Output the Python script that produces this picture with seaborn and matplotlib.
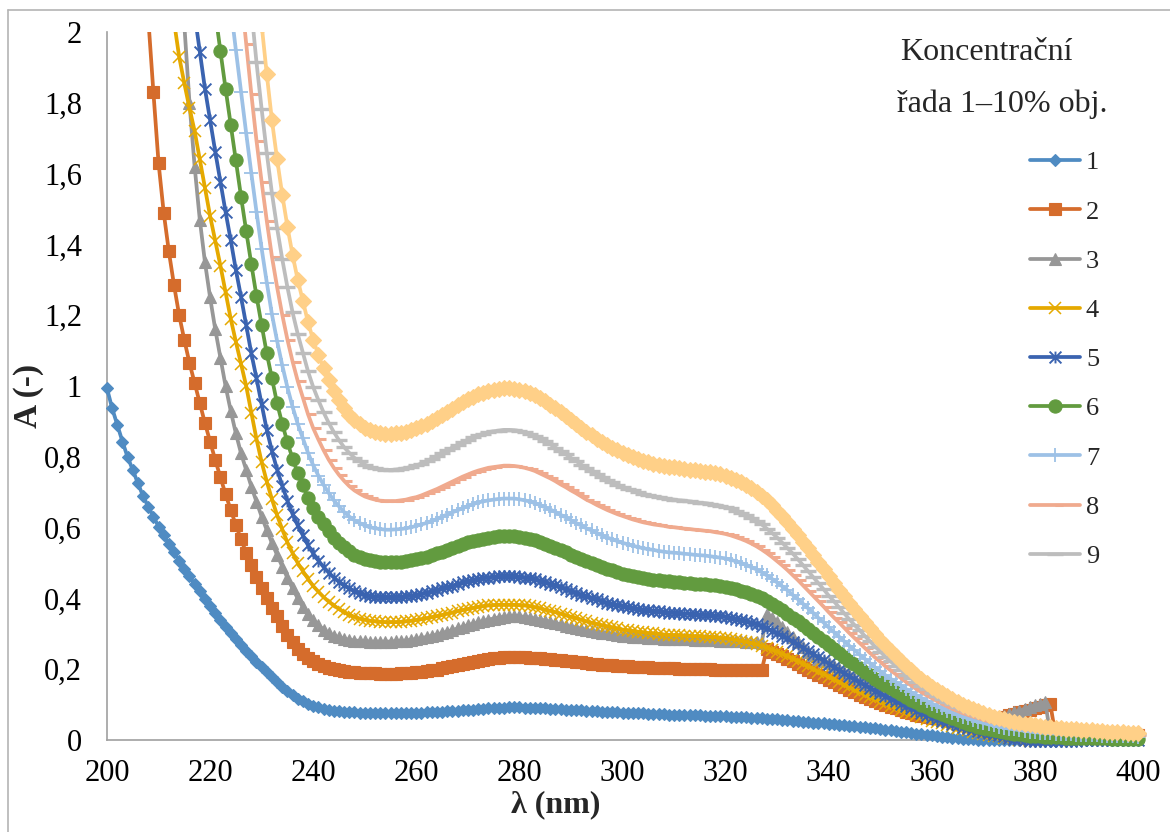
import numpy as np
import matplotlib
matplotlib.use("Agg")
import matplotlib.pyplot as plt
from matplotlib.path import Path
from matplotlib.lines import Line2D
from matplotlib.transforms import Bbox, TransformedBbox
import seaborn as sns

# ---------------------------------------------------------------------------
# UV absorbance spectra, 1 nm step; each series starts at its own wavelength
# ---------------------------------------------------------------------------
start_1 = 200
s1 = [0.993, 0.937, 0.890, 0.843, 0.799, 0.763, 0.725, 0.689, 0.659, 0.631,
      0.603, 0.578, 0.553, 0.530, 0.507, 0.484, 0.462, 0.441, 0.420, 0.399,
      0.378, 0.358, 0.339, 0.320, 0.302, 0.285, 0.268, 0.252, 0.236, 0.221,
      0.206, 0.191, 0.177, 0.163, 0.150, 0.138, 0.127, 0.117, 0.109, 0.102,
      0.096, 0.092, 0.088, 0.085, 0.083, 0.081, 0.080, 0.079, 0.078, 0.077,
      0.077, 0.076, 0.076, 0.075, 0.075, 0.075, 0.075, 0.075, 0.076, 0.076,
      0.076, 0.077, 0.078, 0.078, 0.079, 0.080, 0.081, 0.082, 0.083, 0.084,
      0.085, 0.086, 0.087, 0.088, 0.089, 0.090, 0.091, 0.091, 0.092, 0.092,
      0.092, 0.091, 0.091, 0.090, 0.090, 0.089, 0.088, 0.088, 0.087, 0.086,
      0.085, 0.084, 0.084, 0.083, 0.082, 0.081, 0.080, 0.080, 0.079, 0.078,
      0.077, 0.077, 0.076, 0.075, 0.075, 0.074, 0.074, 0.073, 0.073, 0.072,
      0.072, 0.071, 0.071, 0.071, 0.070, 0.070, 0.069, 0.069, 0.068, 0.068,
      0.067, 0.066, 0.066, 0.065, 0.064, 0.063, 0.062, 0.061, 0.060, 0.059,
      0.058, 0.057, 0.056, 0.054, 0.053, 0.052, 0.051, 0.049, 0.048, 0.047,
      0.046, 0.044, 0.043, 0.042, 0.040, 0.039, 0.037, 0.036, 0.034, 0.033,
      0.031, 0.029, 0.027, 0.026, 0.024, 0.022, 0.020, 0.018, 0.016, 0.014,
      0.013, 0.011, 0.009, 0.008, 0.006, 0.005, 0.004, 0.003, 0.002, 0.001,
      0.001, 0.000, 0.000, 0.001, 0.000, 0.000, 0.000, 0.001, 0.000, 0.000,
      0.000, 0.000, 0.001, 0.000, 0.000, 0.000, 0.000, 0.001, 0.000, 0.000,
      0.000, 0.000, 0.000, 0.001, 0.000, 0.000, 0.000, 0.000, 0.001, 0.000,
      0.000]

start_2 = 207
s2 = [2.30, 2.04, 1.83,
      1.63, 1.49, 1.38, 1.285, 1.20, 1.13, 1.065, 1.008, 0.951, 0.895,
      0.843, 0.791, 0.742, 0.694, 0.650, 0.607, 0.567, 0.529, 0.494, 0.461,
      0.430, 0.401, 0.374, 0.349, 0.323, 0.298, 0.276, 0.257, 0.242, 0.231,
      0.222, 0.215, 0.209, 0.204, 0.200, 0.197, 0.195, 0.193, 0.191, 0.190,
      0.189, 0.188, 0.188, 0.187, 0.187, 0.187, 0.187, 0.188, 0.189, 0.190,
      0.191, 0.193, 0.195, 0.197, 0.199, 0.202, 0.205, 0.208, 0.211, 0.214,
      0.217, 0.220, 0.223, 0.226, 0.229, 0.231, 0.233, 0.234, 0.235, 0.235,
      0.235, 0.234, 0.233, 0.232, 0.231, 0.229, 0.228, 0.226, 0.225, 0.223,
      0.222, 0.220, 0.219, 0.217, 0.216, 0.215, 0.213, 0.212, 0.211, 0.210,
      0.209, 0.208, 0.207, 0.206, 0.205, 0.205, 0.204, 0.203, 0.203, 0.202,
      0.202, 0.201, 0.201, 0.201, 0.200, 0.200, 0.200, 0.200, 0.199, 0.199,
      0.199, 0.199, 0.199, 0.198, 0.198, 0.198, 0.198, 0.197, 0.258, 0.250,
      0.243, 0.236, 0.229, 0.222, 0.214, 0.207, 0.199, 0.192, 0.184, 0.177,
      0.170, 0.163, 0.156, 0.149, 0.142, 0.135, 0.128, 0.122, 0.116, 0.110,
      0.104, 0.099, 0.094, 0.089, 0.084, 0.080, 0.076, 0.072, 0.069, 0.066,
      0.063, 0.061, 0.059, 0.057, 0.056, 0.055, 0.054, 0.054, 0.054, 0.055,
      0.056, 0.058, 0.060, 0.063, 0.066, 0.070, 0.074, 0.078, 0.082, 0.086,
      0.090, 0.094, 0.098, 0.101, 0.013, 0.013, 0.013, 0.012, 0.012, 0.012,
      0.012, 0.011, 0.011, 0.011, 0.011, 0.011, 0.011, 0.012, 0.013, 0.014,
      0.015]

start_3 = 215
s3 = [2.02, 1.80, 1.62, 1.47, 1.35,
      1.25, 1.16, 1.08, 1.00, 0.93, 0.866, 0.81, 0.763, 0.716, 0.673,
      0.631, 0.593, 0.556, 0.523, 0.490, 0.458, 0.428, 0.400, 0.375, 0.355,
      0.338, 0.324, 0.312, 0.302, 0.295, 0.290, 0.286, 0.283, 0.281, 0.280,
      0.279, 0.278, 0.278, 0.278, 0.278, 0.278, 0.279, 0.280, 0.281, 0.283,
      0.285, 0.288, 0.291, 0.294, 0.298, 0.302, 0.306, 0.310, 0.315, 0.319,
      0.324, 0.328, 0.332, 0.336, 0.340, 0.343, 0.346, 0.348, 0.349, 0.350,
      0.349, 0.348, 0.346, 0.343, 0.340, 0.337, 0.334, 0.330, 0.327, 0.323,
      0.320, 0.317, 0.314, 0.311, 0.308, 0.305, 0.303, 0.301, 0.299, 0.297,
      0.295, 0.294, 0.292, 0.291, 0.290, 0.289, 0.288, 0.287, 0.286, 0.286,
      0.285, 0.285, 0.284, 0.284, 0.283, 0.283, 0.283, 0.282, 0.282, 0.281,
      0.281, 0.280, 0.280, 0.279, 0.278, 0.277, 0.276, 0.275, 0.355, 0.344,
      0.332, 0.319, 0.305, 0.291, 0.277, 0.263, 0.250, 0.239, 0.229, 0.222,
      0.217, 0.209, 0.201, 0.193, 0.184, 0.176, 0.167, 0.159, 0.151, 0.143,
      0.136, 0.128, 0.121, 0.114, 0.107, 0.100, 0.094, 0.088, 0.082, 0.077,
      0.072, 0.068, 0.064, 0.061, 0.058, 0.056, 0.055, 0.054, 0.054, 0.055,
      0.056, 0.058, 0.061, 0.065, 0.069, 0.073, 0.078, 0.083, 0.088, 0.093,
      0.098, 0.103, 0.108, 0.015, 0.014, 0.014, 0.013, 0.013, 0.013, 0.012,
      0.012, 0.012, 0.011, 0.011, 0.011, 0.011, 0.010, 0.010, 0.010, 0.010,
      0.010]

start_4 = 213
s4 = [2.03, 1.93, 1.855, 1.785, 1.72, 1.64, 1.56,
      1.48, 1.41, 1.34, 1.265, 1.19, 1.125, 1.062, 1.000, 0.925, 0.850,
      0.785, 0.730, 0.680, 0.635, 0.595, 0.558, 0.528, 0.500, 0.477, 0.455,
      0.435, 0.419, 0.404, 0.391, 0.380, 0.370, 0.361, 0.354, 0.348, 0.343,
      0.340, 0.337, 0.335, 0.334, 0.333, 0.333, 0.333, 0.334, 0.335, 0.337,
      0.339, 0.341, 0.344, 0.347, 0.350, 0.353, 0.357, 0.360, 0.364, 0.367,
      0.370, 0.373, 0.376, 0.378, 0.380, 0.381, 0.382, 0.382, 0.382, 0.382,
      0.381, 0.380, 0.378, 0.375, 0.372, 0.368, 0.365, 0.361, 0.357, 0.352,
      0.348, 0.344, 0.340, 0.335, 0.331, 0.328, 0.324, 0.321, 0.318, 0.315,
      0.312, 0.310, 0.308, 0.306, 0.304, 0.302, 0.301, 0.300, 0.298, 0.297,
      0.296, 0.296, 0.295, 0.294, 0.293, 0.293, 0.292, 0.291, 0.290, 0.289,
      0.287, 0.285, 0.283, 0.280, 0.277, 0.274, 0.270, 0.266, 0.261, 0.255,
      0.250, 0.243, 0.237, 0.230, 0.223, 0.216, 0.208, 0.201, 0.193, 0.186,
      0.178, 0.171, 0.164, 0.156, 0.149, 0.142, 0.135, 0.128, 0.121, 0.115,
      0.108, 0.102, 0.096, 0.091, 0.085, 0.080, 0.075, 0.070, 0.065, 0.060,
      0.055, 0.051, 0.047, 0.043, 0.039, 0.035, 0.031, 0.028, 0.024, 0.021,
      0.018, 0.015, 0.012, 0.010, 0.007, 0.005, 0.003, 0.001, -0.001, -0.002,
      -0.003, -0.003, -0.003, -0.003, -0.002, -0.002, -0.002, -0.002, -0.002, -0.001,
      -0.001, -0.001, -0.001, -0.001, -0.001, -0.001, 0.000, 0.000, 0.000, 0.000,
      0.000]

start_5 = 217
s5 = [2.05, 1.944, 1.840,
      1.751, 1.662, 1.577, 1.492, 1.412, 1.328, 1.252, 1.172, 1.092, 1.022,
      0.948, 0.876, 0.816, 0.764, 0.718, 0.676, 0.638, 0.606, 0.578, 0.550,
      0.527, 0.507, 0.489, 0.473, 0.459, 0.447, 0.437, 0.428, 0.421, 0.416,
      0.411, 0.408, 0.405, 0.404, 0.403, 0.403, 0.404, 0.404, 0.406, 0.408,
      0.410, 0.413, 0.416, 0.420, 0.424, 0.428, 0.432, 0.436, 0.440, 0.445,
      0.448, 0.452, 0.455, 0.457, 0.459, 0.461, 0.462, 0.463, 0.463, 0.462,
      0.461, 0.459, 0.457, 0.454, 0.450, 0.446, 0.441, 0.437, 0.432, 0.426,
      0.421, 0.416, 0.411, 0.406, 0.401, 0.397, 0.392, 0.388, 0.384, 0.381,
      0.378, 0.375, 0.372, 0.370, 0.368, 0.366, 0.364, 0.363, 0.361, 0.360,
      0.359, 0.358, 0.357, 0.356, 0.355, 0.354, 0.353, 0.352, 0.351, 0.350,
      0.348, 0.345, 0.343, 0.339, 0.336, 0.331, 0.327, 0.322, 0.315, 0.309,
      0.302, 0.295, 0.287, 0.278, 0.270, 0.261, 0.252, 0.243, 0.234, 0.225,
      0.216, 0.207, 0.198, 0.189, 0.180, 0.172, 0.163, 0.155, 0.147, 0.139,
      0.132, 0.124, 0.117, 0.110, 0.103, 0.096, 0.090, 0.083, 0.077, 0.071,
      0.065, 0.060, 0.055, 0.050, 0.046, 0.042, 0.038, 0.034, 0.030, 0.026,
      0.022, 0.019, 0.016, 0.013, 0.010, 0.007, 0.004, 0.002, 0.000, -0.002,
      -0.003, -0.003, -0.003, -0.003, -0.002, -0.002, -0.002, -0.002, -0.002, -0.001,
      -0.001, -0.001, -0.001, -0.001, -0.001, -0.001, 0.000, 0.000, 0.000, 0.000,
      0.000]

start_6 = 221
s6 = [2.055, 1.946, 1.840, 1.738, 1.638, 1.535, 1.438, 1.344, 1.254,
      1.172, 1.092, 1.022, 0.951, 0.893, 0.841, 0.795, 0.754, 0.719, 0.684,
      0.655, 0.631, 0.609, 0.589, 0.572, 0.557, 0.544, 0.533, 0.524, 0.517,
      0.512, 0.508, 0.505, 0.503, 0.502, 0.502, 0.502, 0.503, 0.505, 0.508,
      0.510, 0.514, 0.518, 0.523, 0.527, 0.532, 0.538, 0.543, 0.548, 0.553,
      0.558, 0.562, 0.566, 0.569, 0.572, 0.574, 0.575, 0.576, 0.576, 0.575,
      0.574, 0.572, 0.569, 0.565, 0.560, 0.555, 0.549, 0.543, 0.537, 0.531,
      0.524, 0.518, 0.512, 0.505, 0.499, 0.494, 0.488, 0.483, 0.479, 0.474,
      0.470, 0.467, 0.463, 0.461, 0.458, 0.455, 0.453, 0.451, 0.450, 0.448,
      0.447, 0.445, 0.444, 0.443, 0.442, 0.441, 0.440, 0.438, 0.437, 0.435,
      0.433, 0.430, 0.426, 0.422, 0.418, 0.412, 0.407, 0.400, 0.393, 0.385,
      0.376, 0.367, 0.357, 0.346, 0.336, 0.325, 0.314, 0.303, 0.291, 0.280,
      0.269, 0.258, 0.247, 0.235, 0.224, 0.214, 0.204, 0.193, 0.183, 0.173,
      0.164, 0.155, 0.146, 0.138, 0.130, 0.122, 0.114, 0.106, 0.099, 0.092,
      0.085, 0.079, 0.073, 0.067, 0.061, 0.056, 0.051, 0.046, 0.042, 0.038,
      0.034, 0.031, 0.028, 0.025, 0.022, 0.020, 0.018, 0.016, 0.014, 0.012,
      0.011, 0.010, 0.009, 0.009, 0.008, 0.008, 0.007, 0.007, 0.006, 0.006,
      0.006, 0.005, 0.005, 0.005, 0.005, 0.004, 0.004, 0.004, 0.004, 0.004,
      0.004]

start_7 = 224
s7 = [2.07, 1.949, 1.831, 1.714, 1.601, 1.492,
      1.388, 1.292, 1.202, 1.127, 1.058, 0.996, 0.941, 0.893, 0.852, 0.811,
      0.776, 0.747, 0.721, 0.698, 0.677, 0.660, 0.644, 0.631, 0.621, 0.613,
      0.606, 0.601, 0.598, 0.596, 0.594, 0.594, 0.595, 0.596, 0.598, 0.601,
      0.605, 0.609, 0.613, 0.619, 0.624, 0.631, 0.637, 0.643, 0.649, 0.655,
      0.661, 0.666, 0.671, 0.674, 0.677, 0.679, 0.681, 0.682, 0.682, 0.682,
      0.680, 0.677, 0.674, 0.669, 0.664, 0.657, 0.651, 0.644, 0.636, 0.629,
      0.621, 0.613, 0.606, 0.598, 0.592, 0.585, 0.578, 0.572, 0.567, 0.562,
      0.557, 0.553, 0.549, 0.545, 0.542, 0.539, 0.537, 0.534, 0.532, 0.530,
      0.529, 0.528, 0.526, 0.525, 0.523, 0.522, 0.521, 0.519, 0.517, 0.515,
      0.513, 0.509, 0.505, 0.500, 0.495, 0.488, 0.482, 0.474, 0.465, 0.455,
      0.445, 0.434, 0.423, 0.410, 0.398, 0.385, 0.372, 0.359, 0.345, 0.332,
      0.318, 0.305, 0.292, 0.279, 0.266, 0.254, 0.241, 0.229, 0.217, 0.205,
      0.194, 0.183, 0.173, 0.164, 0.154, 0.144, 0.135, 0.127, 0.119, 0.111,
      0.103, 0.096, 0.089, 0.083, 0.077, 0.071, 0.066, 0.061, 0.056, 0.052,
      0.048, 0.044, 0.041, 0.038, 0.035, 0.032, 0.030, 0.028, 0.026, 0.024,
      0.022, 0.021, 0.020, 0.019, 0.018, 0.017, 0.016, 0.016, 0.015, 0.014,
      0.014, 0.013, 0.013, 0.012, 0.012, 0.011, 0.011, 0.010, 0.010, 0.010,
      0.009]

start_8 = 226
s8 = [2.11, 1.966, 1.825, 1.693,
      1.576, 1.466, 1.365, 1.279, 1.201, 1.131, 1.069, 1.014, 0.967, 0.920,
      0.881, 0.849, 0.819, 0.792, 0.769, 0.749, 0.732, 0.717, 0.705, 0.696,
      0.688, 0.683, 0.679, 0.676, 0.675, 0.675, 0.675, 0.677, 0.679, 0.683,
      0.686, 0.691, 0.697, 0.703, 0.709, 0.716, 0.723, 0.730, 0.737, 0.744,
      0.750, 0.756, 0.761, 0.765, 0.769, 0.771, 0.773, 0.775, 0.775, 0.774,
      0.772, 0.769, 0.765, 0.760, 0.753, 0.746, 0.739, 0.731, 0.722, 0.714,
      0.705, 0.697, 0.688, 0.679, 0.672, 0.664, 0.657, 0.650, 0.644, 0.638,
      0.633, 0.628, 0.623, 0.619, 0.615, 0.612, 0.609, 0.607, 0.605, 0.602,
      0.601, 0.599, 0.597, 0.596, 0.594, 0.593, 0.591, 0.590, 0.587, 0.585,
      0.582, 0.578, 0.573, 0.568, 0.562, 0.555, 0.547, 0.538, 0.528, 0.517,
      0.505, 0.493, 0.480, 0.466, 0.452, 0.437, 0.422, 0.407, 0.392, 0.377,
      0.361, 0.346, 0.332, 0.317, 0.302, 0.288, 0.274, 0.260, 0.246, 0.233,
      0.221, 0.208, 0.197, 0.186, 0.175, 0.164, 0.154, 0.144, 0.135, 0.126,
      0.118, 0.110, 0.102, 0.095, 0.088, 0.082, 0.076, 0.071, 0.066, 0.062,
      0.057, 0.053, 0.050, 0.046, 0.043, 0.040, 0.038, 0.036, 0.034, 0.032,
      0.030, 0.029, 0.028, 0.027, 0.026, 0.025, 0.024, 0.023, 0.022, 0.021,
      0.020, 0.019, 0.018, 0.018, 0.017, 0.016, 0.016, 0.015, 0.015, 0.014,
      0.014]

start_9 = 227
s9 = [2.22, 2.064, 1.914,
      1.782, 1.658, 1.544, 1.446, 1.358, 1.279, 1.208, 1.147, 1.094, 1.041,
      0.997, 0.960, 0.926, 0.896, 0.870, 0.847, 0.827, 0.811, 0.797, 0.787,
      0.778, 0.772, 0.767, 0.765, 0.763, 0.763, 0.764, 0.766, 0.768, 0.772,
      0.776, 0.781, 0.788, 0.795, 0.802, 0.810, 0.818, 0.826, 0.833, 0.841,
      0.848, 0.855, 0.861, 0.865, 0.870, 0.872, 0.874, 0.876, 0.876, 0.875,
      0.873, 0.870, 0.865, 0.859, 0.852, 0.844, 0.835, 0.826, 0.817, 0.807,
      0.797, 0.788, 0.778, 0.768, 0.759, 0.751, 0.743, 0.735, 0.728, 0.721,
      0.715, 0.710, 0.705, 0.700, 0.696, 0.692, 0.689, 0.686, 0.684, 0.681,
      0.679, 0.677, 0.676, 0.674, 0.672, 0.670, 0.669, 0.667, 0.664, 0.662,
      0.658, 0.654, 0.648, 0.642, 0.635, 0.627, 0.618, 0.609, 0.597, 0.585,
      0.572, 0.557, 0.542, 0.527, 0.511, 0.494, 0.477, 0.460, 0.443, 0.426,
      0.408, 0.392, 0.375, 0.358, 0.341, 0.325, 0.310, 0.294, 0.279, 0.264,
      0.250, 0.235, 0.222, 0.210, 0.198, 0.185, 0.174, 0.163, 0.153, 0.143,
      0.133, 0.124, 0.116, 0.108, 0.101, 0.094, 0.088, 0.082, 0.076, 0.070,
      0.065, 0.061, 0.057, 0.053, 0.050, 0.047, 0.044, 0.042, 0.040, 0.038,
      0.036, 0.035, 0.034, 0.033, 0.032, 0.031, 0.030, 0.029, 0.028, 0.027,
      0.026, 0.025, 0.024, 0.023, 0.022, 0.021, 0.020, 0.019, 0.018, 0.018,
      0.017]

start_10 = 229
s10 = [2.17,
       2.02, 1.88, 1.75, 1.64, 1.54, 1.45, 1.37, 1.30, 1.24, 1.18,
       1.130, 1.088, 1.050, 1.016, 0.986, 0.960, 0.938, 0.919, 0.904, 0.892,
       0.882, 0.875, 0.870, 0.867, 0.865, 0.865, 0.866, 0.868, 0.871, 0.875,
       0.880, 0.886, 0.893, 0.901, 0.909, 0.918, 0.927, 0.936, 0.945, 0.954,
       0.962, 0.969, 0.976, 0.981, 0.986, 0.989, 0.991, 0.993, 0.993, 0.992,
       0.990, 0.986, 0.981, 0.974, 0.966, 0.957, 0.947, 0.937, 0.926, 0.915,
       0.904, 0.893, 0.882, 0.871, 0.861, 0.851, 0.842, 0.833, 0.825, 0.818,
       0.811, 0.805, 0.799, 0.794, 0.789, 0.785, 0.781, 0.778, 0.775, 0.772,
       0.770, 0.768, 0.766, 0.764, 0.762, 0.760, 0.758, 0.756, 0.753, 0.750,
       0.746, 0.741, 0.735, 0.728, 0.720, 0.711, 0.701, 0.690, 0.677, 0.663,
       0.648, 0.632, 0.615, 0.597, 0.579, 0.560, 0.541, 0.522, 0.502, 0.483,
       0.463, 0.444, 0.425, 0.406, 0.387, 0.369, 0.351, 0.333, 0.316, 0.299,
       0.283, 0.267, 0.252, 0.238, 0.224, 0.210, 0.197, 0.185, 0.173, 0.162,
       0.151, 0.141, 0.132, 0.123, 0.115, 0.107, 0.100, 0.093, 0.087, 0.081,
       0.076, 0.071, 0.066, 0.062, 0.058, 0.055, 0.052, 0.049, 0.046, 0.044,
       0.042, 0.040, 0.038, 0.036, 0.035, 0.033, 0.032, 0.031, 0.030, 0.029,
       0.028, 0.027, 0.026, 0.025, 0.024, 0.023, 0.022, 0.022, 0.021, 0.021,
       0.020]

series_names = ["1", "2", "3", "4", "5", "6", "7", "8", "9", "10"]
legend_count = 9

x_ticks = [200, 220, 240, 260, 280, 300, 320, 340, 360, 380, 400]
y_ticks = [0, 0.2, 0.4, 0.6, 0.8, 1.0, 1.2, 1.4, 1.6, 1.8, 2.0]
y_tick_labels = ["0", "0,2", "0,4", "0,6", "0,8", "1", "1,2", "1,4", "1,6", "1,8", "2"]

x_label = "λ (nm)"
y_label = "A (-)"
legend_title_lines = ["Koncentrační", "řada 1–10% obj."]

# ---------------------------------------------------------------------------
# Marker shapes
# ---------------------------------------------------------------------------
STAR = Path([(-1, -1), (1, 1), (-1, 1), (1, -1), (0, -1), (0, 1)],
            [Path.MOVETO, Path.LINETO, Path.MOVETO, Path.LINETO, Path.MOVETO, Path.LINETO])
STUB = Path([(0, 0), (1, 0)], [Path.MOVETO, Path.LINETO])

colors = ["#4F8BC2", "#D56C2C", "#979797", "#E5A900", "#3A63B0",
          "#629B3F", "#9DC1E6", "#F0AA8E", "#BDBDBD", "#FFD088"]
markers = ["D", "s", "^", "x", STAR, "o", "+", STUB, "_", "D"]
marker_sizes = [6.5, 9.0, 8.5, 8.5, 8.5, 9.5, 9.5, 11.0, 11.5, 8.0]
marker_edge = [0.8, 0.8, 0.8, 1.1, 1.4, 0.8, 1.3, 2.2, 2.4, 0.8]

starts = [start_1, start_2, start_3, start_4, start_5,
          start_6, start_7, start_8, start_9, start_10]
values = [s1, s2, s3, s4, s5, s6, s7, s8, s9, s10]

# ---------------------------------------------------------------------------
# Figure
# ---------------------------------------------------------------------------
sns.set_theme(style="white")
plt.rcParams["font.family"] = ["Liberation Serif", "DejaVu Serif"]
plt.rcParams["axes.unicode_minus"] = False

W, H = 1170, 832
fig = plt.figure(figsize=(W / 100, H / 100), dpi=100, facecolor="white")

Y_MIN, Y_MAX = -0.025, 2.0
px_per_unit = 354.0
ax_left, ax_right = 107, 1138
ax_top = 32
ax_bottom = 740 + (-Y_MIN) * px_per_unit
ax = fig.add_axes([ax_left / W, 1 - ax_bottom / H,
                   (ax_right - ax_left) / W, (ax_bottom - ax_top) / H])
ax.set_facecolor("white")

for name, st, vals, c, m, ms, mew in zip(series_names, starts, values, colors,
                                          markers, marker_sizes, marker_edge):
    nm = np.arange(st, st + len(vals))
    sns.lineplot(x=nm, y=np.array(vals), ax=ax, color=c, linewidth=2.7,
                 marker=m, markersize=ms, markeredgecolor=c, markerfacecolor=c,
                 markeredgewidth=mew, estimator=None, sort=False, legend=False,
                 label=name)

ax.set_xlim(200, 400)
ax.set_ylim(Y_MIN, Y_MAX)

# let markers spill past the left/bottom/right edges, but cut the lines at A = 2
clip = TransformedBbox(Bbox.from_extents(190, -0.2, 410, Y_MAX), ax.transData)
for ln in ax.lines:
    ln.set_clip_path(None)
    ln.set_clip_box(clip)

axis_gray = "#A0A0A0"
for side in ["top", "right"]:
    ax.spines[side].set_visible(False)
ax.spines["bottom"].set_position(("data", 0))
ax.spines["left"].set_bounds(0, Y_MAX)
for side in ["left", "bottom"]:
    ax.spines[side].set_color(axis_gray)
    ax.spines[side].set_linewidth(1.2)
    ax.spines[side].set_zorder(0.5)

ax.set_xticks(x_ticks)
ax.set_xticklabels([str(v) for v in x_ticks])
ax.set_yticks(y_ticks)
ax.set_yticklabels(y_tick_labels)
ax.tick_params(axis="both", which="major", direction="out", length=6, width=1.2,
               color=axis_gray, labelsize=22, labelcolor="black")
ax.tick_params(axis="x", pad=8)
ax.tick_params(axis="y", pad=12)
ax.set_xlabel("")
ax.set_ylabel("")
ax.grid(False)

fig.text(556 / W, 1 - 805 / H, x_label, ha="center", va="center",
         fontsize=23, fontweight="bold")
fig.text(28 / W, 1 - 396 / H, y_label, ha="center", va="center",
         rotation=90, fontsize=24, fontweight="bold")

# legend heading
fig.text(900 / W, 1 - 60 / H, legend_title_lines[0], ha="left", va="baseline", fontsize=23)
fig.text(897 / W, 1 - 112 / H, legend_title_lines[1], ha="left", va="baseline", fontsize=23)

handles = ax.lines[:legend_count]
leg = ax.legend(handles, series_names[:legend_count], loc="upper left",
                bbox_to_anchor=(1030 / W, 1 - 151 / H), bbox_transform=fig.transFigure,
                frameon=False, fontsize=19, handlelength=1.9, handletextpad=0.22,
                labelspacing=0.975, borderpad=0, borderaxespad=0, numpoints=1)

# chart-area border
border = "#B4B4B4"
fig.add_artist(Line2D([8 / W, 8 / W], [0, 1 - 10 / H], transform=fig.transFigure,
                      color=border, linewidth=1.2))
fig.add_artist(Line2D([8 / W, 1], [1 - 10 / H, 1 - 10 / H], transform=fig.transFigure,
                      color=border, linewidth=1.2))

fig.savefig("out.png", dpi=100, facecolor="white")
